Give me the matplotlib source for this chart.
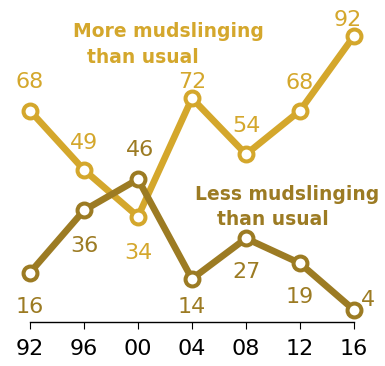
import matplotlib
matplotlib.use("Agg")
import matplotlib.pyplot as plt

years = ["92", "96", "00", "04", "08", "12", "16"]
more_mud = [68, 49, 34, 72, 54, 68, 92]
less_mud = [16, 36, 46, 14, 27, 19, 4]

gold = "#D4A72C"
olive = "#9C7B23"

# label offsets in pixels (baseline relative to marker)
more_off = [(0, 23), (0, 21), (0, -42), (0, 10), (0, 22), (0, 22), (-6, 10)]
less_off = [(0, -40), (0, -42), (2, 23), (0, -34), (0, -40), (0, -40), (14, 4)]

fig = plt.figure(figsize=(3.85, 3.66), dpi=100)
ax = fig.add_axes([0, 0, 1, 1])
x = list(range(len(years)))

ax.plot(x, more_mud, color=gold, lw=4.8, marker="o", ms=10, mew=2.9,
        mfc="white", mec=gold, zorder=3, clip_on=False)
ax.plot(x, less_mud, color=olive, lw=4.8, marker="o", ms=10, mew=2.9,
        mfc="white", mec=olive, zorder=4, clip_on=False)

for i, v in enumerate(more_mud):
    ax.annotate(str(v), (i, v), xytext=more_off[i], textcoords="offset pixels",
                ha="center", va="baseline", fontsize=16, color=gold)
for i, v in enumerate(less_mud):
    ax.annotate(str(v), (i, v), xytext=less_off[i], textcoords="offset pixels",
                ha="center", va="baseline", fontsize=16, color=olive)

fig.text(73, 329, "More mudslinging", transform=None, fontsize=13.5,
         fontweight="bold", color=gold)
fig.text(87, 303, "than usual", transform=None, fontsize=13.5,
         fontweight="bold", color=gold)
fig.text(195, 166, "Less mudslinging", transform=None, fontsize=13.5,
         fontweight="bold", color=olive)
fig.text(217, 141, "than usual", transform=None, fontsize=13.5,
         fontweight="bold", color=olive)

ax.set_xlim(-30 / 54, 355 / 54)
ax.set_ylim(4 - 56 / 3.114, 4 + 310 / 3.114)
ax.set_xticks(x)
ax.set_xticklabels(years)
ax.set_yticks([])
for s in ["top", "right", "left"]:
    ax.spines[s].set_visible(False)
ax.spines["bottom"].set_position(("data", 0))
ax.spines["bottom"].set_bounds(0, 6)
ax.spines["bottom"].set_linewidth(1)
ax.tick_params(axis="x", length=5, width=0.8, pad=7, colors="black",
               labelsize=16)
ax.patch.set_visible(False)

fig.savefig("out.png", dpi=100)
